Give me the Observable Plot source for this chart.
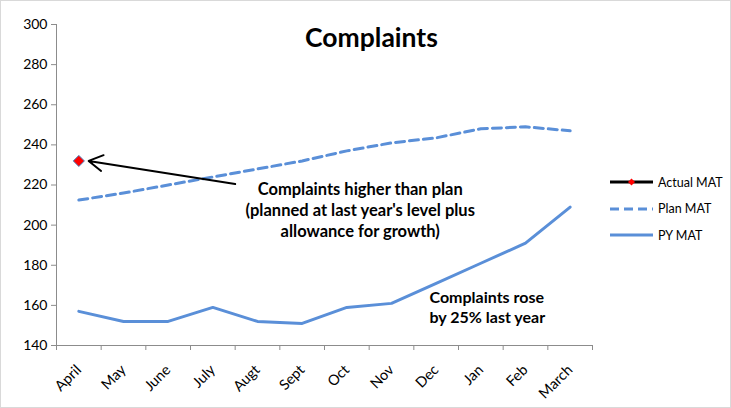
<!DOCTYPE html>
<html>
<head>
<meta charset="utf-8">
<script src="https://cdn.jsdelivr.net/npm/d3@7"></script>
<script src="https://cdn.jsdelivr.net/npm/@observablehq/plot@0.6"></script>
<style>
  body { margin: 0; background: #fff; font-family: Lato, "Open Sans", sans-serif; }
  #wrap { position: relative; width: 731px; height: 408px; }
  #frame { position: absolute; left: 0; top: 0; width: 729px; height: 406px; border: 1px solid #d9d9d9; pointer-events: none; }
  #title { position: absolute; left: 0; width: 743px; top: 21px; text-align: center; font-size: 26.5px; font-weight: bold; color: #000; }
  #legend { position: absolute; left: 610px; top: 169px; font-size: 12.5px; color: #000; }
  .li { height: 26.5px; display: flex; align-items: center; }
  .li svg { margin-right: 4px; }
</style>
</head>
<body>
<div id="wrap">
  <div id="chart"></div>
  <div id="title">Complaints</div>
  <div id="legend"></div>
  <div id="frame"></div>
</div>
<script>
const months = ["April","May","June","July","Augt","Sept","Oct","Nov","Dec","Jan","Feb","March"];
const actualMAT = [232];
const planMAT = [212.5, 216, 220, 224, 228, 232, 237, 241, 243.5, 248, 249, 247];
const pyMAT = [157, 152, 152, 159, 152, 151, 159, 161, 171, 181, 191, 209];
const yTicks = [140, 160, 180, 200, 220, 240, 260, 280, 300];
const note1 = "Complaints higher than plan\n(planned at last year's level plus\nallowance for growth)";
const note2 = "Complaints rose\nby 25% last year";
const seriesNames = ["Actual MAT", "Plan MAT", "PY MAT"];

const blue = "#5a8fd8";
const axisGray = "#8c8c8c";

const plan = planMAT.map((v, i) => ({i, v}));
const py = pyMAT.map((v, i) => ({i, v}));
const act = actualMAT.map((v, i) => ({i, v}));
const bounds = d3.range(months.length + 1).map(k => k - 0.5);

const chart = Plot.plot({
  width: 731,
  height: 408,
  marginLeft: 56,
  marginRight: 139,
  marginTop: 24,
  marginBottom: 63,
  style: {fontFamily: "Lato, 'Open Sans', sans-serif", fontSize: "14px", color: "#000", background: "transparent"},
  x: {domain: [-0.5, months.length - 0.5]},
  y: {domain: [140, 300]},
  marks: [
    Plot.axisY({ticks: yTicks, tickSize: 5, tickPadding: 4, stroke: axisGray, label: null, fontSize: 14}),
    Plot.axisX({ticks: bounds, tickSize: 5, tickFormat: () => "", stroke: axisGray, label: null}),
    Plot.axisX({ticks: d3.range(months.length), tickSize: 0, tickPadding: 22, tickRotate: -45, tickFormat: i => months[i], label: null, fontSize: 14.5}),
    Plot.ruleX([-0.5], {stroke: axisGray}),
    Plot.ruleY([140], {stroke: axisGray}),
    Plot.line(plan, {x: "i", y: "v", stroke: blue, strokeWidth: 3, strokeDasharray: "9,5"}),
    Plot.line(py, {x: "i", y: "v", stroke: blue, strokeWidth: 3}),
    Plot.dot(act, {x: "i", y: "v", symbol: "diamond2", r: 5, fill: "#ff0000", stroke: "#4a7ebb", strokeWidth: 1}),
    Plot.arrow([{x1: 3.5, y1: 220.5, x2: 0.22, y2: 232}], {x1: "x1", y1: "y1", x2: "x2", y2: "y2", stroke: "#000", strokeWidth: 2, headLength: 12, inset: 0}),
    Plot.text([note1], {x: 6.3, y: 208, text: d => d, fontWeight: "bold", fontSize: 16.5, lineHeight: 1.27, lineAnchor: "middle", textAnchor: "middle"}),
    Plot.text([note2], {x: 7.85, y: 159.5, text: d => d, fontWeight: "bold", fontSize: 16, lineHeight: 1.25, lineAnchor: "middle", textAnchor: "start"})
  ]
});
document.getElementById("chart").appendChild(chart);

const leg = document.getElementById("legend");
const styles = [
  `<line x1="0" y1="8" x2="43" y2="8" stroke="#000" stroke-width="3"/><path d="M21.5,4.5 L25,8 L21.5,11.5 L18,8 Z" fill="#ff0000"/>`,
  `<line x1="0" y1="8" x2="43" y2="8" stroke="${blue}" stroke-width="3" stroke-dasharray="9,5"/>`,
  `<line x1="0" y1="8" x2="43" y2="8" stroke="${blue}" stroke-width="3"/>`
];
seriesNames.forEach((n, k) => {
  const d = document.createElement("div");
  d.className = "li";
  d.innerHTML = `<svg width="44" height="16">${styles[k]}</svg><span>${n}</span>`;
  leg.appendChild(d);
});
</script>
</body>
</html>
